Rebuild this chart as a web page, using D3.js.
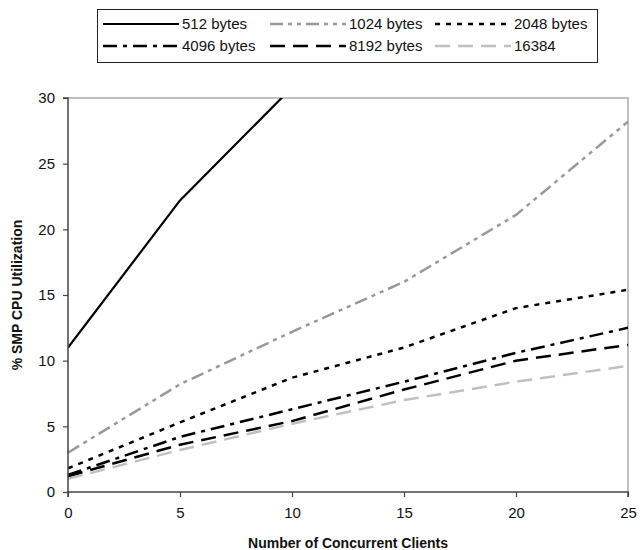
<!DOCTYPE html>
<html>
<head>
<meta charset="utf-8">
<script src="https://cdn.jsdelivr.net/npm/d3@7"></script>
<style>
  body { margin: 0; background: #fff; }
  svg { display: block; font-family: Arial, "Liberation Sans", sans-serif; }
  .tick text { font-size: 15px; fill: #111; }
  .axisTitle { font-size: 14px; font-weight: bold; fill: #111; }
  .legendText { font-size: 15px; fill: #111; }
</style>
</head>
<body>
<div id="graph"></div>
<script>
const WIDTH = 644
const HEIGHT = 550
const LEFT = 68
const RIGHT = 628
const TOP = 98
const BOTTOM = 492

const clients = [0, 5, 10, 15, 20, 25]
const cpu512 = [11.0, 22.2, 30.8]
const cpu1024 = [3.0, 8.2, 12.2, 16.0, 21.1, 28.2]
const cpu2048 = [1.8, 5.3, 8.7, 11.0, 14.0, 15.4]
const cpu4096 = [1.3, 4.2, 6.3, 8.4, 10.6, 12.5]
const cpu8192 = [1.2, 3.6, 5.4, 7.8, 10.0, 11.2]
const cpu16384 = [1.0, 3.2, 5.2, 7.0, 8.4, 9.6]
const seriesNames = ['512 bytes', '1024 bytes', '2048 bytes', '4096 bytes', '8192 bytes', '16384']
const xTicks = [0, 5, 10, 15, 20, 25]
const yTicks = [0, 5, 10, 15, 20, 25, 30]

const STYLES = [
    { color: '#000', width: 2.2, dash: null },
    { color: '#999', width: 2.5, dash: '13,5,4,5,4,5' },
    { color: '#000', width: 2.5, dash: '5,6' },
    { color: '#000', width: 2.5, dash: '14,6,4,6' },
    { color: '#000', width: 2.5, dash: '15,8' },
    { color: '#c0c0c0', width: 2.5, dash: '15,8' }
]

const main = _ => {
    const allValues = [cpu512, cpu1024, cpu2048, cpu4096, cpu8192, cpu16384]
    const series = seriesNames.map((name, i) => ({
        name,
        style: STYLES[i],
        points: allValues[i].map((v, j) => ({ x: clients[j], y: v }))
    }))

    const x = d3.scaleLinear().domain([0, 25]).range([LEFT, RIGHT])
    const y = d3.scaleLinear().domain([0, 30]).range([BOTTOM, TOP])

    const svg = d3.select('#graph')
        .append('svg')
        .attr('width', WIDTH)
        .attr('height', HEIGHT)

    svg.append('clipPath')
        .attr('id', 'plot')
        .append('rect')
        .attr('x', LEFT)
        .attr('y', TOP)
        .attr('width', RIGHT - LEFT)
        .attr('height', BOTTOM - TOP)

    // light frame on top and right
    svg.append('path')
        .attr('d', `M${LEFT},${TOP}H${RIGHT}V${BOTTOM}`)
        .attr('fill', 'none')
        .attr('stroke', '#c0c0c0')
        .attr('stroke-width', 2)

    const line = d3.line().x(d => x(d.x)).y(d => y(d.y))

    svg.append('g')
        .attr('clip-path', 'url(#plot)')
        .selectAll('path')
        .data(series)
        .enter()
        .append('path')
        .attr('d', d => line(d.points))
        .attr('fill', 'none')
        .attr('stroke', d => d.style.color)
        .attr('stroke-width', d => d.style.width)
        .attr('stroke-dasharray', d => d.style.dash)

    const xAxis = d3.axisBottom(x).tickValues(xTicks).tickSize(5).tickPadding(10)
    const yAxis = d3.axisLeft(y).tickValues(yTicks).tickSize(5).tickPadding(8)

    const gx = svg.append('g')
        .attr('transform', `translate(0, ${BOTTOM})`)
        .call(xAxis)
    const gy = svg.append('g')
        .attr('transform', `translate(${LEFT}, 0)`)
        .call(yAxis)

    for (const g of [gx, gy]) {
        g.select('.domain').attr('stroke', '#444').attr('stroke-width', 1.5)
        g.selectAll('.tick line').attr('stroke', '#444').attr('stroke-width', 1.2)
        g.selectAll('.tick text').attr('font-family', null).attr('font-size', null)
    }
    gx.select('.domain').attr('d', `M${LEFT},5V0H${RIGHT}V5`)
    gy.select('.domain').attr('d', `M-5,${TOP}H0V${BOTTOM}`)

    svg.append('text')
        .attr('class', 'axisTitle')
        .attr('x', (LEFT + RIGHT) / 2)
        .attr('y', 548)
        .attr('text-anchor', 'middle')
        .text('Number of Concurrent Clients')

    svg.append('text')
        .attr('class', 'axisTitle')
        .attr('transform', `translate(22, ${(TOP + BOTTOM) / 2}) rotate(-90)`)
        .attr('text-anchor', 'middle')
        .text('% SMP CPU Utilization')

    // legend
    const legend = svg.append('g')
    legend.append('rect')
        .attr('x', 97.5)
        .attr('y', 9.5)
        .attr('width', 500)
        .attr('height', 53)
        .attr('fill', '#fff')
        .attr('stroke', '#222')

    const colX = [103, 270, 435]
    const rowY = [24, 46]
    const items = legend.selectAll('g.item')
        .data(series)
        .enter()
        .append('g')
        .attr('class', 'item')
        .attr('transform', (d, i) => `translate(${colX[i % 3]}, ${rowY[Math.floor(i / 3)]})`)

    items.append('line')
        .attr('x1', 0)
        .attr('x2', 76)
        .attr('stroke', d => d.style.color)
        .attr('stroke-width', d => d.style.width)
        .attr('stroke-dasharray', d => d.style.dash)

    items.append('text')
        .attr('class', 'legendText')
        .attr('x', 79)
        .attr('dy', '0.35em')
        .text(d => d.name)
}

document.addEventListener('DOMContentLoaded', main)
</script>
</body>
</html>
